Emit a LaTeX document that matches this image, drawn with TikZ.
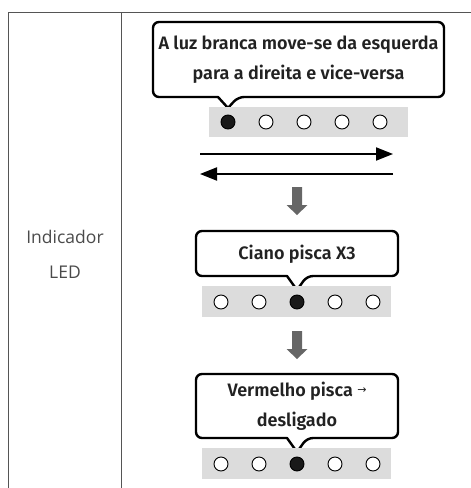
\documentclass[tikz,border=0pt]{standalone}
\usepackage{fontspec}
\setmainfont{Fira Sans}[BoldFont={* SemiBold}]
\newfontfamily\labelfont{Open Sans}
\newfontfamily\symfont{DejaVu Sans}
\usetikzlibrary{arrows.meta}
\definecolor{stripgray}{HTML}{DCDCDC}
\definecolor{arrowgray}{HTML}{666666}
\definecolor{tablegray}{HTML}{555555}
\definecolor{labelgray}{HTML}{4A4A4A}
\definecolor{bubbleink}{HTML}{222222}
\tikzset{
  bubble/.style={draw=black, line width=2.4pt, fill=white, line join=round},
  bubbletext/.style={text=bubbleink, font=\bfseries\fontsize{18}{30}\selectfont, align=center, inner sep=0pt},
  strip/.style={fill=stripgray, draw=none},
  ledoff/.style={circle, draw=black, line width=0.9pt, fill=white, minimum size=14pt, inner sep=0pt},
  ledon/.style={circle, draw=black, line width=0.9pt, fill=black!90, minimum size=14pt, inner sep=0pt},
  flow/.style={line width=2pt, -{Triangle[length=17pt,width=13pt]}},
  gridline/.style={draw=tablegray, line width=1pt},
}
\newcommand{\bubblepath}[6]{% x1,y1,x2,y2,tipx,tipy
  \path[bubble] [rounded corners=6pt] (#1,#2) -- (#3,#2) -- (#3,#4) -- ({#5+10},#4) [sharp corners] -- (#5,#6) -- ({#5-10},#4) [rounded corners=6pt] -- (#1,#4) -- cycle;
}
\newcommand{\grayarrow}[3]{% x, ytop, ytip
  \fill[arrowgray] ({#1-5},#2) -- ({#1+5},#2) -- ({#1+5},{#3-10}) -- ({#1+10.5},{#3-10}) -- (#1,#3) -- ({#1-10.5},{#3-10}) -- ({#1-5},{#3-10}) -- cycle;
}
\begin{document}
\begin{tikzpicture}[x=1pt,y=-1pt]
\useasboundingbox (0,0) rectangle (471,488);
% table
\coordinate (tl) at (8,12);
\coordinate (tr) at (471,12);
\coordinate (bl) at (8,488);
\coordinate (dt) at (121,12);
\coordinate (db) at (121,488);
\draw[gridline] (bl) -- (tl) -- (tr);
\draw[gridline] (dt) -- (db);
\node[text=labelgray, align=center, font=\labelfont\fontsize{17.5}{35}\selectfont] (lab) at (65,254) {Indicador\\LED};

% bubble 1
\bubblepath{153}{22}{444}{97}{228}{108}
\node[bubbletext] (t1) at (298.5,60) {A luz branca move-se da esquerda\\para a direita e vice-versa};
% strip 1
\fill[strip] (209,107) rectangle (408,137);
\foreach \i/\s in {0/ledon,1/ledoff,2/ledoff,3/ledoff,4/ledoff}
  \node[\s] (a\i) at ({228+38*\i},122) {};
% arrows
\coordinate (r1) at (200,154);
\coordinate (r2) at (393,154);
\coordinate (l1) at (393,174);
\coordinate (l2) at (200,174);
\draw[flow] (r1) -- (r2);
\draw[flow] (l1) -- (l2);
% gray arrow 1
\grayarrow{297}{187}{215}

% bubble 2
\bubblepath{196}{231}{398}{276}{297}{290}
\node[bubbletext] (t2) at (297,254) {Ciano pisca X3};
\fill[strip] (202,286) rectangle (391,317);
\foreach \i/\s in {0/ledoff,1/ledoff,2/ledon,3/ledoff,4/ledoff}
  \node[\s] (b\i) at ({221+38*\i},302) {};

% gray arrow 2
\grayarrow{297}{331}{359}

% bubble 3
\bubblepath{196}{374}{398}{438}{297}{452}
\node[bubbletext] (t3) at (297,406) {Vermelho pisca {\symfont\mdseries\fontsize{11}{11}\selectfont\raisebox{3pt}{→}}\\desligado};
\fill[strip] (202,448) rectangle (391,479);
\foreach \i/\s in {0/ledoff,1/ledoff,2/ledon,3/ledoff,4/ledoff}
  \node[\s] (c\i) at ({221+38*\i},464) {};
\end{tikzpicture}
\end{document}
